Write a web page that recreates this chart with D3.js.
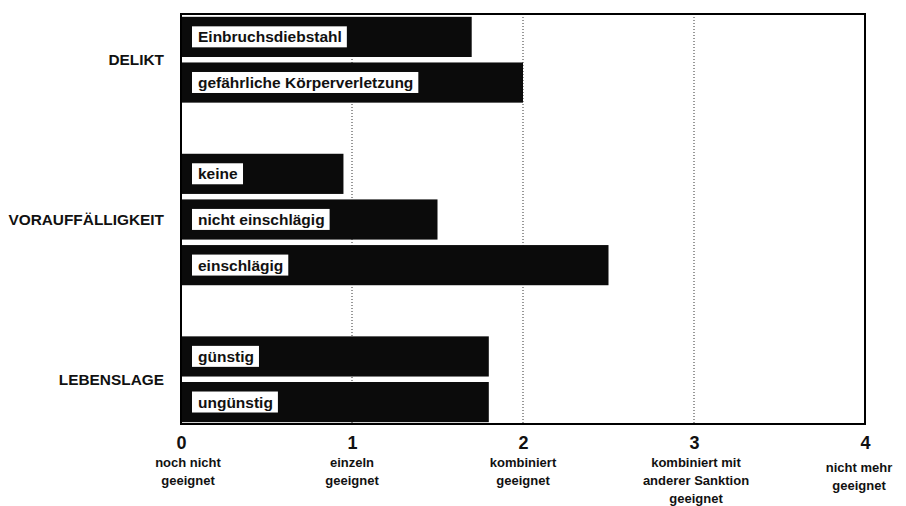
<!DOCTYPE html>
<html>
<head>
<meta charset="utf-8">
<script src="https://cdn.jsdelivr.net/npm/d3@7"></script>
<style>
  body { margin: 0; background: #fff; }
  text { font-family: "Liberation Sans", Arial, Helvetica, sans-serif; fill: #111; }
</style>
</head>
<body>
<div id="chart"></div>
<script>
// data
const groups = ["DELIKT", "VORAUFFÄLLIGKEIT", "LEBENSLAGE"];
const categories = ["Einbruchsdiebstahl", "gefährliche Körperverletzung",
    "keine", "nicht einschlägig", "einschlägig",
    "günstig", "ungünstig"];
const categoryGroup = ["DELIKT", "DELIKT",
    "VORAUFFÄLLIGKEIT", "VORAUFFÄLLIGKEIT", "VORAUFFÄLLIGKEIT",
    "LEBENSLAGE", "LEBENSLAGE"];
const values = [1.7, 2.0, 0.95, 1.5, 2.5, 1.8, 1.8];
const tickValues = [0, 1, 2, 3, 4];
const tickLabels = [
    ["noch nicht", "geeignet"],
    ["einzeln", "geeignet"],
    ["kombiniert", "geeignet"],
    ["kombiniert mit", "anderer Sanktion", "geeignet"],
    ["nicht mehr", "geeignet"]
];

const width = 906, height = 506;
const margin = {top: 14, right: 41, bottom: 82, left: 181};

const svg = d3.select("#chart").append("svg")
    .attr("width", width)
    .attr("height", height);

// rows with an empty slot between groups
const rows = [];
groups.forEach(function (g, gi) {
    if (gi > 0) rows.push("gap" + gi);
    categories.forEach(function (c, i) {
        if (categoryGroup[i] === g) rows.push(c);
    });
});

const x = d3.scaleLinear()
    .domain([0, 4])
    .range([margin.left, width - margin.right]);

const y = d3.scaleBand()
    .domain(rows)
    .range([margin.top + 1, height - margin.bottom])
    .paddingInner(0.12)
    .paddingOuter(0.04);

// dotted grid lines
svg.append("g")
    .selectAll("line")
    .data(tickValues.slice(1, -1))
    .enter().append("line")
    .attr("x1", d => x(d)).attr("x2", d => x(d))
    .attr("y1", margin.top).attr("y2", height - margin.bottom)
    .attr("stroke", "#333")
    .attr("stroke-width", 1)
    .attr("stroke-dasharray", "1,2");

// bars
const data = categories.map((c, i) => ({name: c, value: values[i]}));
const bar = svg.append("g").selectAll("g")
    .data(data)
    .enter().append("g");

bar.append("rect")
    .attr("x", x(0))
    .attr("y", d => y(d.name))
    .attr("width", d => x(d.value) - x(0))
    .attr("height", y.bandwidth())
    .attr("fill", "#0b0b0b");

const labels = bar.append("text")
    .attr("x", x(0) + 17)
    .attr("y", d => y(d.name) + y.bandwidth() / 2)
    .attr("dy", "0.35em")
    .attr("font-size", 15.5)
    .attr("font-weight", "bold")
    .text(d => d.name);

labels.each(function () {
    const b = this.getBBox();
    d3.select(this.parentNode).insert("rect", "text")
        .attr("x", b.x - 6)
        .attr("y", b.y - 2)
        .attr("width", b.width + 11)
        .attr("height", b.height + 4)
        .attr("fill", "#fff");
});

// frame
svg.append("rect")
    .attr("x", margin.left)
    .attr("y", margin.top)
    .attr("width", x(4) - x(0))
    .attr("height", height - margin.bottom - margin.top)
    .attr("fill", "none")
    .attr("stroke", "#000")
    .attr("stroke-width", 2);

// group labels
svg.append("g").selectAll("text")
    .data(groups)
    .enter().append("text")
    .attr("x", margin.left - 17)
    .attr("y", function (g) {
        const ys = categories.filter((c, i) => categoryGroup[i] === g)
            .map(c => y(c) + y.bandwidth() / 2);
        return d3.mean(ys);
    })
    .attr("dy", "0.35em")
    .attr("text-anchor", "end")
    .attr("font-size", 15.4)
    .attr("font-weight", "bold")
    .text(d => d);

// x axis
const axis = svg.append("g")
    .attr("transform", `translate(0, ${height - margin.bottom})`)
    .call(d3.axisBottom(x).tickValues(tickValues).tickSize(0).tickPadding(12)
        .tickFormat(d3.format("d")));
axis.select(".domain").remove();
axis.selectAll(".tick text")
    .attr("font-size", 18)
    .attr("font-weight", "bold")
    .attr("font-family", "Liberation Sans, Arial, sans-serif")
    .attr("fill", "#111");

const labelShift = [7, 0, 0, 2, -6];
const labelDrop = [0, 0, 0, 0, 5];
const sub = svg.append("g").selectAll("text")
    .data(tickValues)
    .enter().append("text")
    .attr("x", (d, i) => x(d) + labelShift[i])
    .attr("y", (d, i) => height - margin.bottom + 43 + labelDrop[i])
    .attr("text-anchor", "middle")
    .attr("font-size", 13)
    .attr("font-weight", "bold");

sub.selectAll("tspan")
    .data((d, i) => tickLabels[i])
    .enter().append("tspan")
    .attr("x", function () { return d3.select(this.parentNode).attr("x"); })
    .attr("dy", (d, i) => i === 0 ? 0 : 18)
    .text(d => d);
</script>
</body>
</html>
